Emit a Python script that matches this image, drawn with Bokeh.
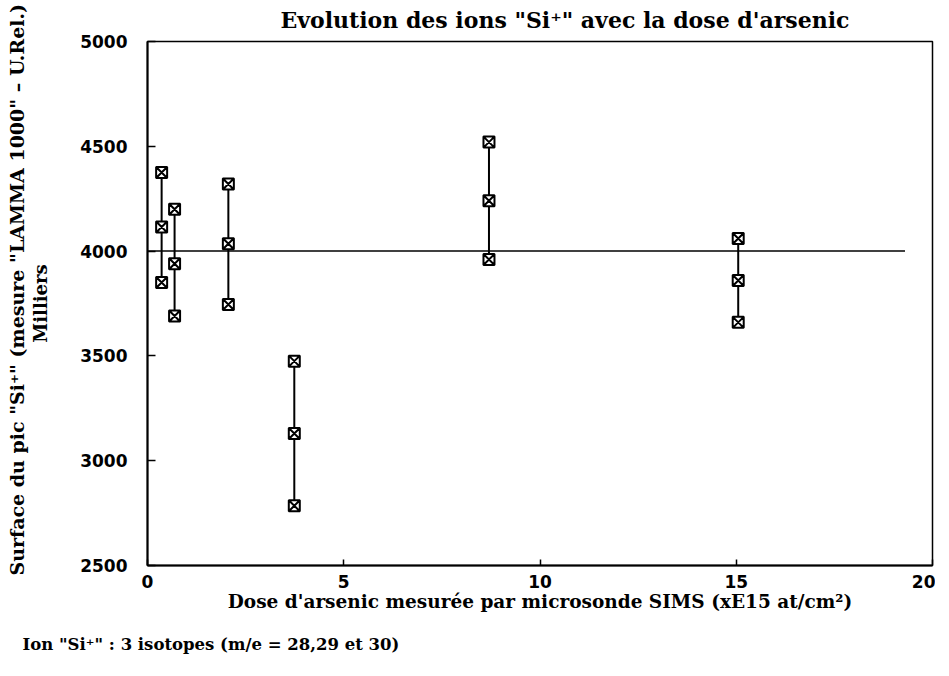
from bokeh.plotting import figure
from bokeh.models import Title, Range1d, FixedTicker, ColumnDataSource
from bokeh.embed import file_html
from bokeh.resources import INLINE

# ---- data ----
dose = [0.36, 0.69, 2.06, 3.74, 8.70, 15.05]          # xE15 at/cm2
surf_high = [4375, 4200, 4320, 3475, 4520, 4060]
surf_mid = [4115, 3940, 4035, 3130, 4240, 3860]
surf_low = [3850, 3690, 3745, 2785, 3960, 3660]
x_ticks = [0, 5, 10, 15, 20]
y_ticks = [2500, 3000, 3500, 4000, 4500, 5000]
ref_level = 4000
ref_x = [0, 19.3]

title_txt = "Evolution des ions \"Si\u207a\" avec la dose d'arsenic"
xlab_txt = "Dose d'arsenic mesurée par microsonde SIMS (xE15 at/cm\u00b2)"
ylab_txt = "Surface du pic \"Si\u207a\" (mesure \"LAMMA 1000\" \u2013 U.Rel.)"
ylab2_txt = "Milliers"
note_txt = "Ion \"Si\u207a\"  : 3 isotopes (m/e = 28,29 et 30)"

SERIF = "DejaVu Serif"
SANS = "DejaVu Sans"

W, H = 935, 676
FL, FT, FR, FB = 147, 41, 932, 565   # frame edges on the canvas
p = figure(width=W, height=H, output_backend="svg", toolbar_location=None,
           x_range=Range1d(0, 20), y_range=Range1d(2500, 5000),
           min_border_left=FL, min_border_right=W - FR,
           min_border_top=FT, min_border_bottom=H - FB)
p.background_fill_color = "white"
p.border_fill_color = "white"
p.outline_line_color = "black"
p.outline_line_width = 1.5
p.xgrid.visible = False
p.ygrid.visible = False

for ax in (p.xaxis, p.yaxis):
    ax.axis_line_color = "black"
    ax.axis_line_width = 2
    ax.major_tick_line_color = "black"
    ax.major_tick_line_width = 1.5
    ax.minor_tick_line_color = None
    ax.major_tick_out = 0
    ax.major_label_text_font = SANS
    ax.major_label_text_font_style = "bold"
    ax.major_label_text_font_size = "17px"
    ax.major_label_text_color = "black"
    ax.axis_label_text_font = SERIF
    ax.axis_label_text_font_style = "bold"
    ax.axis_label_text_color = "black"

p.xaxis.ticker = FixedTicker(ticks=x_ticks)
p.yaxis.ticker = FixedTicker(ticks=y_ticks)
p.xaxis.major_tick_in = 6
p.yaxis.major_tick_in = 8
p.xaxis.major_label_standoff = 9
p.yaxis.major_label_standoff = 20

p.xaxis.axis_label = xlab_txt
p.xaxis.axis_label_text_font_size = "18.5px"
p.xaxis.axis_label_standoff = 0

p.yaxis.axis_label = ylab2_txt
p.yaxis.axis_label_text_font_size = "18px"
p.yaxis.axis_label_standoff = 26

# title
p.title.text = title_txt
p.title.align = "left"
p.title.offset = 133
p.title.standoff = 13
p.title.vertical_align = "top"
p.title.text_font = SERIF
p.title.text_font_style = "bold"
p.title.text_font_size = "22px"
p.title.text_color = "black"

# first line of the y-axis label as a left-side title
p.add_layout(Title(text=ylab_txt, align="left", offset=-10, standoff=0,
                   text_font=SERIF, text_font_style="bold", text_font_size="19px",
                   text_color="black"), "left")

# footnote
p.add_layout(Title(text=note_txt, align="left", offset=-125, standoff=40,
                   vertical_align="top",
                   text_font=SERIF, text_font_style="bold", text_font_size="16.5px",
                   text_color="black"), "below")

# reference line at 4000
p.line(ref_x, [ref_level, ref_level], line_color="black", line_width=1.5)

src = ColumnDataSource(dict(x=dose, hi=surf_high, mid=surf_mid, lo=surf_low))
p.segment(x0="x", y0="lo", x1="x", y1="hi", source=src, line_color="black", line_width=2)
for col in ("hi", "mid", "lo"):
    p.scatter(x="x", y=col, source=src, marker="square_x", size=11,
              line_color="black", line_width=2, fill_color="white")

open("out.html", "w").write(file_html(p, INLINE))
